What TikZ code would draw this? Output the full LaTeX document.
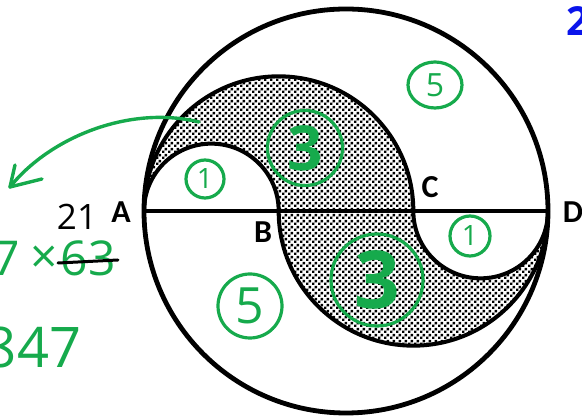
\documentclass[tikz,border=0pt]{standalone}
\usepackage{fontspec}
\setmainfont{Carlito}
\newfontfamily\hand{Open Sans}
\usetikzlibrary{patterns,shapes.geometric}
\pgfdeclarepatternformonly{mydots}{\pgfpointorigin}{\pgfpoint{6pt}{6pt}}{\pgfpoint{6pt}{6pt}}{%
  \pgfpathrectangle{\pgfpoint{0pt}{0pt}}{\pgfpoint{2.9pt}{2.9pt}}%
  \pgfpathrectangle{\pgfpoint{3pt}{3pt}}{\pgfpoint{2.9pt}{2.9pt}}%
  \pgfusepath{fill}}
\definecolor{gr}{RGB}{22,170,76}
\definecolor{bl}{RGB}{10,20,235}
\tikzset{
  geo/.style={line width=4pt, draw=black},
  lbl/.style={font=\bfseries\fontsize{32}{32}\selectfont, inner sep=0pt},
  ring/.style={draw=gr, line width=3.2pt, circle, inner sep=0pt, text=gr},
  oval/.style={draw=gr, line width=3.2pt, ellipse, inner sep=0pt, text=gr},
  note/.style={inner sep=0pt, text=gr, font=\hand\fontsize{48}{48}\selectfont},
  penline/.style={line width=3.4pt, line cap=round}
}
\begin{document}
\begin{tikzpicture}[x=1pt,y=1pt]
\useasboundingbox (0,0) rectangle (582,417);
\coordinate (O) at (346,206);
\coordinate (A) at (144,206);
\coordinate (B) at (278.67,206);
\coordinate (C) at (413.33,206);
\coordinate (D) at (548,206);
% shaded S-shape
\fill[pattern=mydots] (A) arc[start angle=180,end angle=0,radius=134.67]
  arc[start angle=180,end angle=360,radius=67.33]
  arc[start angle=0,end angle=-180,radius=134.67]
  arc[start angle=0,end angle=180,radius=67.33] -- cycle;
% outlines
\draw[geo] (A) arc[start angle=180,end angle=0,radius=134.67];
\draw[geo] (C) arc[start angle=180,end angle=360,radius=67.33];
\draw[geo] (D) arc[start angle=0,end angle=-180,radius=134.67];
\draw[geo] (B) arc[start angle=0,end angle=180,radius=67.33];
\draw[geo] (A) -- (D);
\draw[line width=4.8pt] (O) circle[radius=202];
% point labels
\node[lbl] (lA) at (121,205) {A};
\node[lbl] (lB) at (263,185) {B};
\node[lbl] (lC) at (430,230) {C};
\node[lbl] (lD) at (573,205) {D};
% circled numbers
\node[ring, minimum size=38pt, font=\hand\fontsize{28}{28}\selectfont] (n1a) at (205,238) {1};
\node[ring, minimum size=75pt, font=\hand\bfseries\fontsize{62}{62}\selectfont] (n3a) at (305,269) {3};
\node[oval, minimum width=54pt, minimum height=46pt, font=\hand\fontsize{32}{32}\selectfont] (n5a) at (435,332) {5};
\node[ring, minimum size=92pt, font=\hand\bfseries\fontsize{80}{80}\selectfont] (n3b) at (377,137) {3};
\node[ring, minimum size=64pt, font=\hand\fontsize{50}{50}\selectfont] (n5b) at (250,111) {5};
\node[ring, minimum size=40pt, font=\hand\fontsize{28}{28}\selectfont] (n1b) at (470,181) {1};
% side working
\node[inner sep=0pt, font=\hand\fontsize{35}{35}\selectfont] (t21) at (77,200) {21};
\node[note] (t7) at (6,159) {7};
\node[note] (tx) at (44,157) {×};
\node[note] (t63) at (88,159) {63};
\coordinate (s1) at (58,154);
\coordinate (s2) at (118,157);
\draw[line width=3pt, line cap=round] (s1) -- (s2);
\node[note, font=\hand\fontsize{56}{56}\selectfont] (t847) at (33,69) {847};
\node[inner sep=0pt, anchor=west, text=bl, font=\hand\bfseries\fontsize{40}{40}\selectfont] (t2) at (566,396) {2};
% green arrow
\coordinate (as) at (199,295);
\coordinate (at) at (10,230);
\draw[gr, penline] (as) .. controls (130,312) and (50,280) .. (at);
\draw[gr, penline] (at) -- ++(5,22);
\draw[gr, penline] (at) -- ++(32,8);
\end{tikzpicture}
\end{document}
